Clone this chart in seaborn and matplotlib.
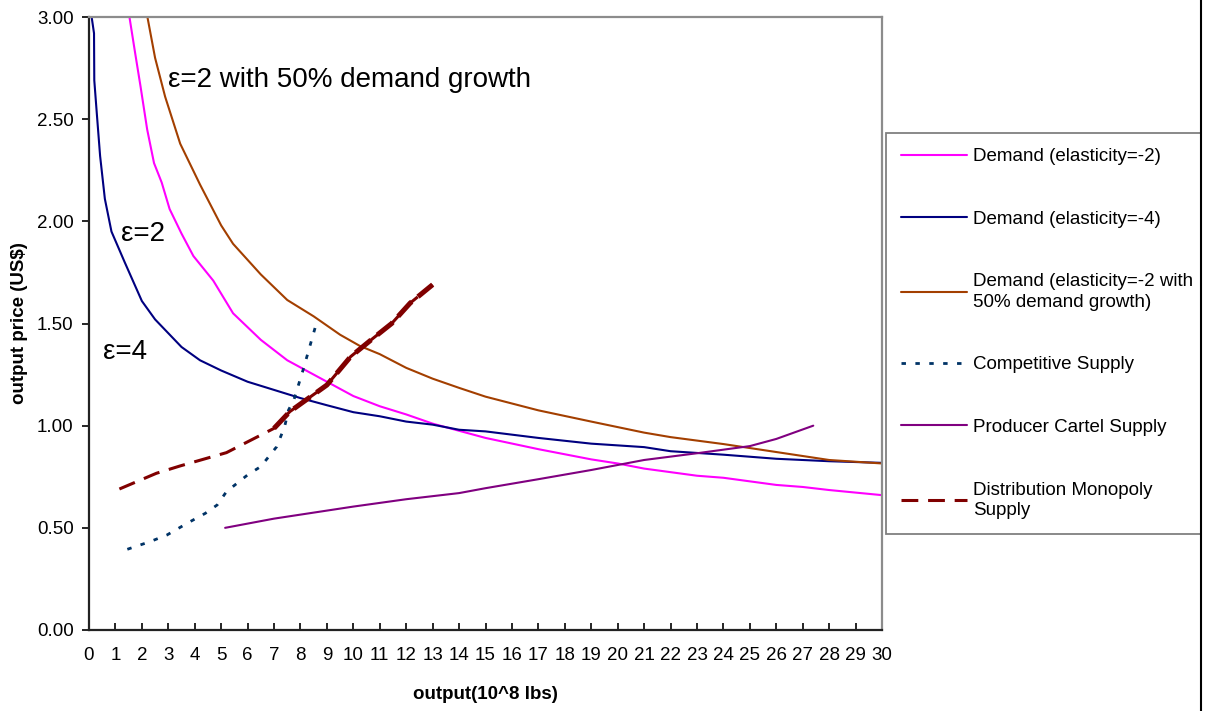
import matplotlib
matplotlib.use("Agg")
import matplotlib.pyplot as plt
from matplotlib.lines import Line2D
import seaborn as sns

# values
pink_x = [1.53, 1.75, 1.95, 2.2, 2.46, 2.75, 3.05, 3.5, 3.95, 4.7, 5.45, 6.5, 7.5, 9, 10, 11, 12, 13, 14, 15, 17, 19, 20, 21, 23, 24, 26, 27, 28, 30]
pink_y = [3.0, 2.82, 2.66, 2.45, 2.285, 2.19, 2.06, 1.94, 1.83, 1.71, 1.55, 1.42, 1.32, 1.215, 1.145, 1.095, 1.055, 1.01, 0.975, 0.94, 0.885, 0.835, 0.815, 0.79, 0.755, 0.745, 0.71, 0.70, 0.685, 0.66]

blue_x = [0.1, 0.19, 0.2, 0.3, 0.42, 0.6, 0.85, 1.35, 2.0, 2.5, 3.5, 4.2, 5, 6, 7, 8, 9, 10, 11, 12, 13, 14, 15, 17, 19, 21, 22, 24, 26, 28, 30]
blue_y = [3.0, 2.92, 2.69, 2.52, 2.32, 2.11, 1.95, 1.8, 1.61, 1.52, 1.385, 1.32, 1.27, 1.215, 1.175, 1.135, 1.10, 1.066, 1.046, 1.02, 1.005, 0.98, 0.972, 0.94, 0.912, 0.895, 0.875, 0.858, 0.838, 0.826, 0.818]

brown_x = [2.21, 2.5, 2.88, 3.45, 4.2, 5.0, 5.45, 6.5, 7.5, 8.5, 9.5, 10.25, 11, 12, 13, 14, 15, 17, 19, 21, 22, 24, 26, 28, 30]
brown_y = [3.0, 2.80, 2.61, 2.38, 2.18, 1.98, 1.89, 1.74, 1.615, 1.535, 1.445, 1.39, 1.35, 1.283, 1.23, 1.185, 1.142, 1.075, 1.02, 0.966, 0.944, 0.91, 0.871, 0.832, 0.815]

comp_x = [1.45, 2.3, 2.95, 3.75, 4.4, 4.85, 5.2, 6.0, 6.5, 7.1, 7.4, 7.55, 7.75, 8.1, 8.6]
comp_y = [0.395, 0.432, 0.465, 0.525, 0.571, 0.612, 0.677, 0.759, 0.80, 0.897, 0.995, 1.077, 1.126, 1.273, 1.5]

cartel_x = [5.15, 7, 10, 12, 14, 15, 17, 19, 21, 23, 25, 26, 27.4]
cartel_y = [0.5, 0.545, 0.604, 0.64, 0.67, 0.694, 0.738, 0.783, 0.832, 0.865, 0.9, 0.935, 1.0]

mono_x = [1.15, 2.55, 3.45, 5.2, 7.0, 7.6, 9.0, 9.9, 10.75, 11.45, 12.15, 13.0]
mono_y = [0.69, 0.767, 0.803, 0.868, 0.987, 1.069, 1.199, 1.338, 1.428, 1.50, 1.60, 1.69]

labels = ["Demand (elasticity=-2)", "Demand (elasticity=-4)",
          "Demand (elasticity=-2 with\n50% demand growth)", "Competitive Supply",
          "Producer Cartel Supply", "Distribution Monopoly\nSupply"]

x_ticks = list(range(0, 31))
y_ticks = [0.0, 0.5, 1.0, 1.5, 2.0, 2.5, 3.0]

sns.set_style("white")
plt.rcParams['font.family'] = ['Liberation Sans', 'DejaVu Sans']
plt.rcParams['text.color'] = 'black'
plt.rcParams['axes.labelcolor'] = 'black'
plt.rcParams['xtick.color'] = 'black'
plt.rcParams['ytick.color'] = 'black'

fig = plt.figure(figsize=(12.12, 7.11), dpi=100)
ax = fig.add_axes([89 / 1212, 81 / 711, 793 / 1212, 613 / 711])

sns.lineplot(x=pink_x, y=pink_y, color="#FF00FF", lw=1.5, ax=ax, sort=False, estimator=None, label=labels[0])
sns.lineplot(x=blue_x, y=blue_y, color="#000080", lw=1.5, ax=ax, sort=False, estimator=None, label=labels[1])
sns.lineplot(x=brown_x, y=brown_y, color="#A33F00", lw=1.5, ax=ax, sort=False, estimator=None, label=labels[2])
sns.lineplot(x=comp_x, y=comp_y, color="#003366", lw=2.0, linestyle=(0, (1.6, 3.4)), ax=ax,
             sort=False, estimator=None, label=labels[3])
sns.lineplot(x=cartel_x, y=cartel_y, color="#800080", lw=1.5, ax=ax, sort=False, estimator=None, label=labels[4])
sns.lineplot(x=mono_x, y=mono_y, color="#800000", lw=2.2, linestyle=(0, (5.5, 3.2)), ax=ax,
             sort=False, estimator=None, label=labels[5])
# heavier upper stretch of the monopoly curve
sns.lineplot(x=mono_x[4:], y=mono_y[4:], color="#800000", lw=3.6, linestyle=(0, (4.0, 1.6)), ax=ax,
             sort=False, estimator=None)

ax.set_xlim(0, 30)
ax.set_ylim(0, 3)
ax.set_xticks(x_ticks)
ax.set_xticklabels([str(t) for t in x_ticks])
ax.set_yticks(y_ticks)
ax.set_yticklabels([f"{t:.2f}" for t in y_ticks])
ax.tick_params(axis="x", direction="in", length=5, width=1.2, pad=12, labelsize=13.5, bottom=True)
ax.tick_params(axis="y", direction="out", length=5, width=1.2, pad=6, labelsize=13.5, left=True)

for side in ["left", "bottom"]:
    ax.spines[side].set_color("#222222")
    ax.spines[side].set_linewidth(1.6)
for side in ["top", "right"]:
    ax.spines[side].set_color("#8c8c8c")
    ax.spines[side].set_linewidth(1.6)

ax.set_xlabel("output(10^8 lbs)", fontsize=13.5, fontweight="bold")
ax.set_ylabel("output price (US$)", fontsize=13.5, fontweight="bold")
ax.xaxis.set_label_coords(0.5, -0.092)
ax.yaxis.set_label_coords(-0.077, 0.5)

ax.text(2.98, 2.69, "ε=2 with 50% demand growth", fontsize=20, va="center", ha="left")
ax.text(1.2, 1.94, "ε=2", fontsize=20, va="center", ha="left")
ax.text(0.52, 1.36, "ε=4", fontsize=20, va="center", ha="left")

handles, _ = ax.get_legend_handles_labels()
leg = ax.legend(handles[:6], labels, loc="upper left",
                bbox_to_anchor=(886 / 1212, 179 / 711, 315 / 1212, 399 / 711),
                bbox_transform=fig.transFigure, mode="expand", borderaxespad=0,
                fontsize=13.5, frameon=True, fancybox=False, framealpha=1,
                edgecolor="#808080", handlelength=3.5, handletextpad=0.32,
                labelspacing=2.43, borderpad=0.8)
leg.get_frame().set_linewidth(1.3)
for t in leg.get_texts():
    t.set_linespacing(1.25)

fig.add_artist(Line2D([1201 / 1212, 1201 / 1212], [0, 1], transform=fig.transFigure,
                      color="black", lw=1.5))

fig.savefig("out.png", dpi=100)
